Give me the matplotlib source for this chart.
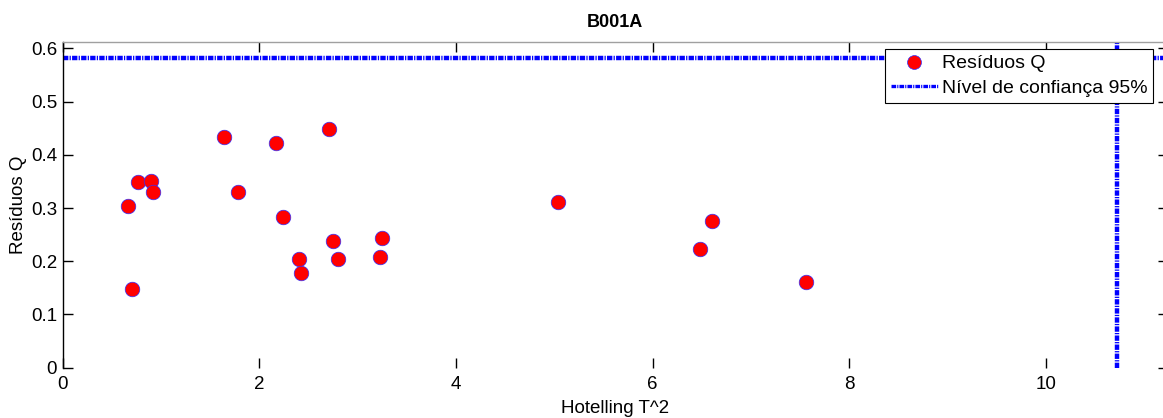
import matplotlib
matplotlib.use("Agg")
import matplotlib.pyplot as plt
from matplotlib.lines import Line2D

plt.rcParams['font.family'] = ['Liberation Sans', 'DejaVu Sans']

# Data
hotelling_t2 = [0.661, 0.702, 0.763, 0.898, 0.919, 1.641, 1.780, 2.170, 2.238, 2.712,
                2.407, 2.421, 2.747, 2.804, 3.228, 3.248, 5.032, 6.602, 6.476, 7.554]
residuos_q = [0.303, 0.147, 0.348, 0.351, 0.331, 0.433, 0.330, 0.423, 0.2825, 0.448,
              0.204, 0.177, 0.2386, 0.2036, 0.2086, 0.2443, 0.311, 0.2756, 0.2224, 0.161]
limite_q = 0.5824
limite_t2 = 10.72
x_ticks = [0, 2, 4, 6, 8, 10]
y_ticks = [0, 0.1, 0.2, 0.3, 0.4, 0.5, 0.6]
title = "B001A"
xlabel = "Hotelling T^2"
ylabel = "Resíduos Q"
legend_labels = ["Resíduos Q", "Nível de confiança 95%"]

W, H = 1163, 418
fig = plt.figure(figsize=(W / 100, H / 100), dpi=100)
left_px, right_px = 62.7, 1168
top_px, bottom_px = 42.3, 367.7
ax = fig.add_axes([left_px / W, (H - bottom_px) / H,
                   (right_px - left_px) / W, (bottom_px - top_px) / H])

dash = (0, (1.2, 0.28, 0.28, 0.28))
ax.axhline(limite_q, color='#0000ff', lw=3.2, linestyle=dash, zorder=2)
ax.axvline(limite_t2, color='#0000ff', lw=3.2, linestyle=dash, zorder=2)
ax.plot(hotelling_t2, residuos_q, 'o', color='red', markersize=10.5,
        markeredgecolor='#3030ff', markeredgewidth=0.5, zorder=3)

ax.set_xlim(0, 11.24)
ax.set_ylim(0, 0.6113)
ax.set_xticks(x_ticks)
ax.set_yticks(y_ticks)
ax.set_xticklabels([str(t) for t in x_ticks])
ax.set_yticklabels(['0'] + [f"{t:.1f}" for t in y_ticks[1:]])
ax.tick_params(direction='in', length=7.5, width=1, top=True, right=True,
               labelsize=13.5, colors='black')
ax.tick_params(axis='x', pad=6)
ax.tick_params(axis='y', pad=4)

ax.spines['left'].set_color('black')
ax.spines['left'].set_linewidth(1)
ax.spines['top'].set_color('#a0a0a0')
ax.spines['top'].set_linewidth(1)
ax.spines['bottom'].set_visible(False)
ax.spines['right'].set_color('#a0a0a0')

ax.set_title(title, fontsize=13, fontweight='bold', pad=11)
ax.set_xlabel(xlabel, fontsize=13.5, labelpad=5)
ax.set_ylabel(ylabel, fontsize=13.5, labelpad=3)

handles = [Line2D([], [], linestyle='none', marker='o', color='red', markersize=10,
                  markeredgecolor='#3030ff', markeredgewidth=0.5),
           Line2D([], [], color='#0000ff', lw=2.4, linestyle=(0, (1.4, 0.33, 0.33, 0.33)))]
leg = fig.legend(handles, legend_labels, loc='upper right',
                 bbox_to_anchor=(1153 / W, (H - 49) / H), fontsize=14,
                 frameon=True, fancybox=False, framealpha=1, edgecolor='black',
                 handlelength=2.4, handletextpad=0.2, borderpad=0.3,
                 labelspacing=0.35, borderaxespad=0)
leg.get_frame().set_linewidth(0.8)

fig.savefig("out.png", dpi=100)
